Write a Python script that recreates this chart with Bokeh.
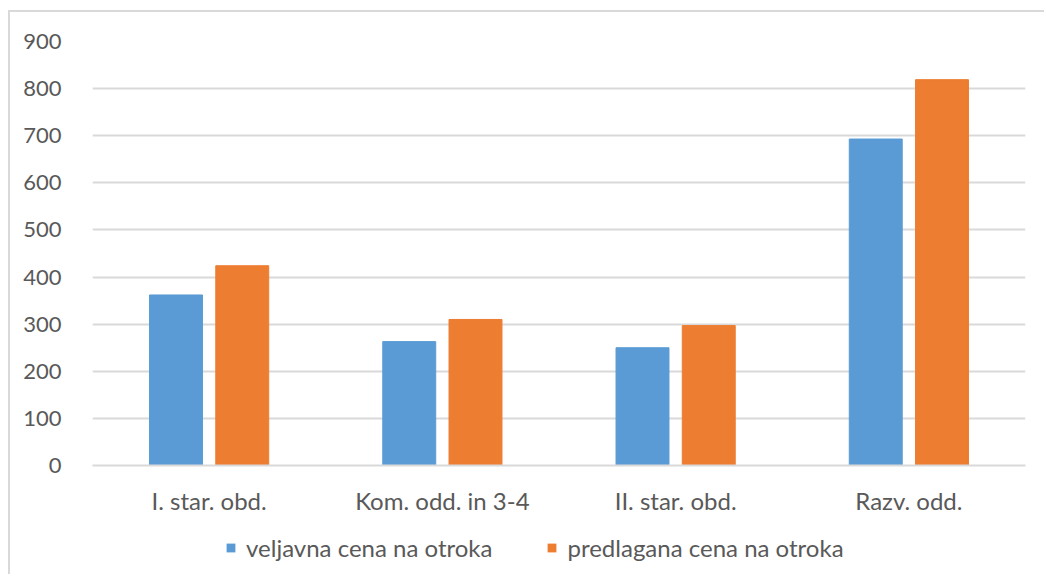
from bokeh.plotting import figure
from bokeh.models import ColumnDataSource, Legend, LegendItem, FixedTicker, Range1d
from bokeh.layouts import column
from bokeh.transform import dodge
from bokeh.embed import file_html
from bokeh.resources import INLINE

categories = ["I. star. obd.", "Kom. odd. in 3-4", "II. star. obd.", "Razv. odd."]
veljavna = [362, 263, 250, 693]
predlagana = [424, 310, 297, 819]
y_ticks = [0, 100, 200, 300, 400, 500, 600, 700, 800, 900]
series_names = ["veljavna cena na otroka", "predlagana cena na otroka"]
BLUE, ORANGE = "#5B9BD5", "#ED7D31"

src = ColumnDataSource(dict(cat=categories, v=veljavna, p=predlagana))

FONT = "Lato"
GREY = "#595959"

p = figure(x_range=categories, y_range=(0, 900), width=1034, height=510,
           output_backend="svg", toolbar_location=None,
           min_border_left=82, min_border_right=19, min_border_top=29, min_border_bottom=57)

p.vbar(x=dodge("cat", -0.142, range=p.x_range), top="v", width=0.227, source=src,
       fill_color=BLUE, line_color=BLUE)
p.vbar(x=dodge("cat", 0.142, range=p.x_range), top="p", width=0.227, source=src,
       fill_color=ORANGE, line_color=ORANGE)

p.outline_line_color = None
p.xgrid.grid_line_color = None
p.ygrid.grid_line_color = "#d9d9d9"
p.ygrid.grid_line_width = 2
p.yaxis.ticker = FixedTicker(ticks=y_ticks)
p.yaxis.axis_line_color = None
p.yaxis.major_tick_line_color = None
p.yaxis.minor_tick_line_color = None
p.yaxis.major_label_text_font = FONT
p.yaxis.major_label_text_font_size = "22px"
p.yaxis.major_label_text_color = GREY
p.yaxis.major_label_standoff = 25

p.xaxis.axis_line_color = "#d9d9d9"
p.xaxis.axis_line_width = 2
p.xaxis.major_tick_line_color = None
p.xaxis.minor_tick_line_color = None
p.xaxis.major_label_text_font = FONT
p.xaxis.major_label_text_font_size = "24px"
p.xaxis.major_label_text_color = GREY
p.xaxis.major_label_standoff = 14

# legend strip: same series as hidden renderers; only their legend entries are shown
p2 = figure(x_range=categories, y_range=Range1d(-20, -19), width=1034, height=52,
            output_backend="svg", toolbar_location=None,
            x_axis_location=None, y_axis_location=None,
            min_border_left=0, min_border_right=0, min_border_top=0, min_border_bottom=0)
p2.outline_line_color = None
p2.xgrid.grid_line_color = None
p2.ygrid.grid_line_color = None
l1 = p2.vbar(x=dodge("cat", -0.142, range=p2.x_range), top="v", width=0.227, source=src,
             fill_color=BLUE, line_color=None, visible=False)
l2 = p2.vbar(x=dodge("cat", 0.142, range=p2.x_range), top="p", width=0.227, source=src,
             fill_color=ORANGE, line_color=None, visible=False)
legend = Legend(items=[LegendItem(label=series_names[0], renderers=[l1]),
                       LegendItem(label=series_names[1], renderers=[l2])],
                orientation="horizontal", location=(133, 12),
                label_text_font=FONT, label_text_font_size="24px", label_text_color=GREY,
                glyph_width=11, glyph_height=11, spacing=54, label_standoff=10,
                inactive_fill_alpha=0,
                border_line_color=None, background_fill_alpha=0, margin=0, padding=0)
p2.add_layout(legend, "center")

layout = column(p, p2, spacing=0)
layout.styles = {"margin-left": "8px", "margin-top": "10px",
                 "border-top": "2px solid #d9d9d9", "border-left": "2px solid #d9d9d9"}

open("out.html", "w").write(file_html(layout, INLINE))
